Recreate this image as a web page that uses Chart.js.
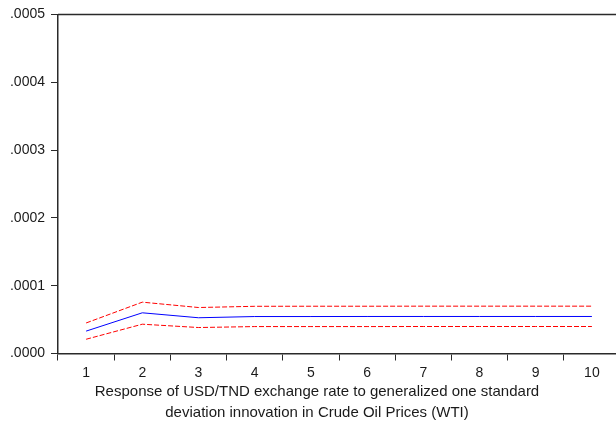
<!DOCTYPE html>
<html>
<head>
<meta charset="utf-8">
<script src="https://cdn.jsdelivr.net/npm/chart.js@4/dist/chart.umd.min.js"></script>
<style>
  html, body { margin: 0; padding: 0; overflow: hidden; background: #ffffff; }
  #wrap { position: absolute; left: 0; top: 0; width: 634px; height: 426px; }
</style>
</head>
<body>
<div id="wrap"><canvas id="c" width="634" height="426"></canvas></div>
<script>
const categories = ['1', '2', '3', '4', '5', '6', '7', '8', '9', '10'];
const response = [3.3e-5, 6.0e-5, 5.27e-5, 5.45e-5, 5.45e-5, 5.46e-5, 5.46e-5, 5.46e-5, 5.46e-5, 5.46e-5];
const upperBand = [4.5e-5, 7.57e-5, 6.78e-5, 6.96e-5, 6.97e-5, 6.97e-5, 6.98e-5, 6.98e-5, 6.98e-5, 6.98e-5];
const lowerBand = [2.1e-5, 4.32e-5, 3.83e-5, 3.97e-5, 3.97e-5, 3.97e-5, 3.98e-5, 3.98e-5, 3.98e-5, 3.98e-5];
const yTickLabels = ['.0000', '.0001', '.0002', '.0003', '.0004', '.0005'];
const titleLines = [
  'Response of USD/TND exchange rate to generalized one standard',
  'deviation innovation in Crude Oil Prices (WTI)'
];

const AXIS_COLOR = '#2a2a2a';

const frame = {
  id: 'frame',
  afterDraw(chart) {
    const {ctx, chartArea: a} = chart;
    ctx.save();
    ctx.strokeStyle = AXIS_COLOR;
    ctx.lineWidth = 1.5;
    ctx.beginPath();
    ctx.moveTo(a.left, a.top);
    ctx.lineTo(a.right, a.top);
    ctx.lineTo(a.right, a.bottom);
    ctx.stroke();
    ctx.restore();
  }
};

new Chart(document.getElementById('c'), {
  type: 'line',
  data: {
    labels: categories,
    datasets: [
      { label: 'Upper', data: upperBand, borderColor: 'rgb(255,0,0)', borderWidth: 1, borderDash: [5, 2], pointRadius: 0, tension: 0, fill: false },
      { label: 'Response', data: response, borderColor: 'rgb(0,0,255)', borderWidth: 1, pointRadius: 0, tension: 0, fill: false },
      { label: 'Lower', data: lowerBand, borderColor: 'rgb(255,0,0)', borderWidth: 1, borderDash: [5, 2], pointRadius: 0, tension: 0, fill: false }
    ]
  },
  options: {
    responsive: false,
    animation: false,
    devicePixelRatio: 1,
    layout: { padding: { top: 14, left: 0, right: 0, bottom: 0 } },
    plugins: {
      legend: { display: false },
      tooltip: { enabled: false },
      title: {
        display: true,
        position: 'bottom',
        text: titleLines,
        color: '#1a1a1a',
        font: { family: 'Liberation Sans, Arial, sans-serif', size: 15, weight: 'normal', lineHeight: '21.5px' },
        padding: { top: 0, bottom: 2 }
      }
    },
    scales: {
      x: {
        type: 'category',
        offset: true,
        afterFit(scale) { scale.height = 27.5; },
        grid: { display: true, offset: true, drawOnChartArea: false, tickLength: 7, color: AXIS_COLOR, lineWidth: 1 },
        border: { display: true, color: AXIS_COLOR, width: 1.5 },
        ticks: { color: '#1a1a1a', padding: 4.5, maxRotation: 0, autoSkip: false, font: { family: 'Liberation Sans, Arial, sans-serif', size: 14 } }
      },
      y: {
        min: 0,
        max: 0.0005,
        afterFit(scale) { scale.width = 58; },
        grid: { display: true, drawOnChartArea: false, tickLength: 7, color: AXIS_COLOR, lineWidth: 1 },
        border: { display: true, color: AXIS_COLOR, width: 1.5 },
        ticks: {
          stepSize: 0.0001,
          padding: 6,
          color: '#1a1a1a',
          font: { family: 'Liberation Sans, Arial, sans-serif', size: 14 },
          callback: (v, i) => yTickLabels[i]
        }
      },
      spacer: {
        type: 'linear',
        position: 'right',
        display: true,
        afterFit(scale) { scale.width = 14; },
        grid: { display: false, drawOnChartArea: false },
        border: { display: false },
        ticks: { display: false }
      }
    }
  },
  plugins: [frame]
});
</script>
</body>
</html>
